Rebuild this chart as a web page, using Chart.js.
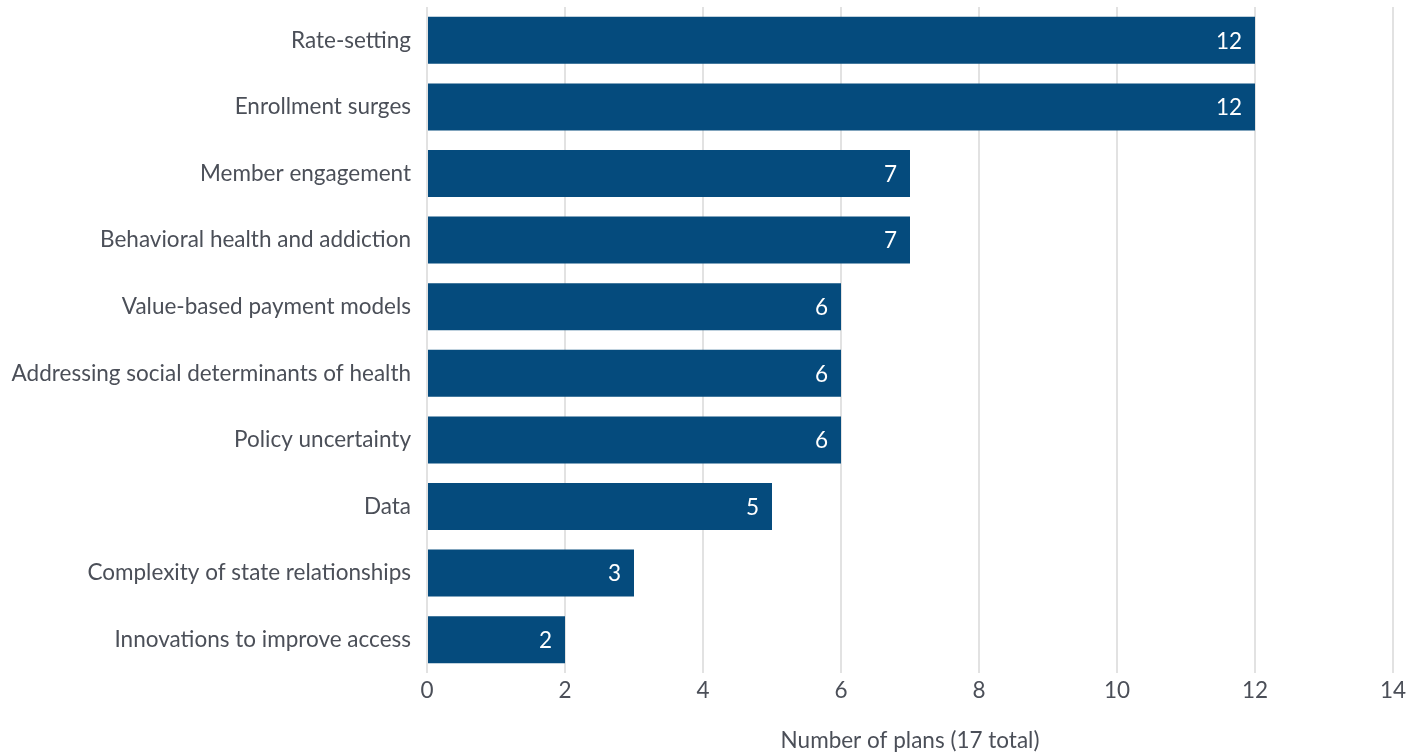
<!DOCTYPE html>
<html>
<head>
<meta charset="utf-8">
<script src="https://cdn.jsdelivr.net/npm/chart.js@4/dist/chart.umd.min.js"></script>
<style>
  html, body { margin: 0; padding: 0; background: #fff; }
  #wrap { width: 1419px; height: 754px; }
</style>
</head>
<body>
<div id="wrap"><canvas id="chart" width="1419" height="754"></canvas></div>
<script>
// ── DATA ────────────────────────────────────────────────────────────────────
const categories = [
  'Rate-setting',
  'Enrollment surges',
  'Member engagement',
  'Behavioral health and addiction',
  'Value-based payment models',
  'Addressing social determinants of health',
  'Policy uncertainty',
  'Data',
  'Complexity of state relationships',
  'Innovations to improve access'
];
const planCounts = [12, 12, 7, 7, 6, 6, 6, 5, 3, 2];
const xTicks = [0, 2, 4, 6, 8, 10, 12, 14];
const axisTitle = 'Number of plans (17 total)';

const textColor = '#4b4f58';
const barColor = '#054b7d';
const fontFamily = 'Lato, "Open Sans", sans-serif';
const fontSize = 22.5;

// white value labels inside bar ends
const barLabels = {
  id: 'barLabels',
  afterDatasetsDraw(chart) {
    const ctx = chart.ctx;
    const meta = chart.getDatasetMeta(0);
    ctx.save();
    ctx.fillStyle = '#ffffff';
    ctx.font = fontSize + 'px ' + fontFamily;
    ctx.textAlign = 'right';
    ctx.textBaseline = 'middle';
    meta.data.forEach((bar, i) => {
      ctx.fillText(String(planCounts[i]), bar.x - 13, bar.y + 1);
    });
    ctx.restore();
  }
};

new Chart(document.getElementById('chart').getContext('2d'), {
  type: 'bar',
  data: {
    labels: categories,
    datasets: [{
      data: planCounts,
      backgroundColor: barColor,
      borderWidth: 0,
      barPercentage: 0.82,
      categoryPercentage: 0.86
    }]
  },
  options: {
    indexAxis: 'y',
    responsive: false,
    animation: false,
    layout: { padding: { top: 7, right: 26, bottom: 0, left: 0 } },
    plugins: { legend: { display: false }, tooltip: { enabled: false } },
    scales: {
      x: {
        min: 0, max: 14,
        afterBuildTicks: s => { s.ticks = xTicks.map(v => ({ value: v })); },
        ticks: { color: textColor, font: { size: fontSize, family: fontFamily }, padding: 4 },
        grid: { color: '#e2e2e2', lineWidth: 2, drawTicks: false },
        border: { display: false },
        title: {
          display: true, text: axisTitle, color: textColor,
          font: { size: fontSize, family: fontFamily },
          padding: { top: 19, bottom: 0 }
        }
      },
      y: {
        afterFit: s => { s.width = 427; s.paddingTop = 0; s.paddingBottom = 0; },
        ticks: { color: textColor, font: { size: fontSize, family: fontFamily }, padding: 16 },
        grid: { display: false, drawTicks: false },
        border: { display: false }
      }
    }
  },
  plugins: [barLabels]
});
</script>
</body>
</html>
